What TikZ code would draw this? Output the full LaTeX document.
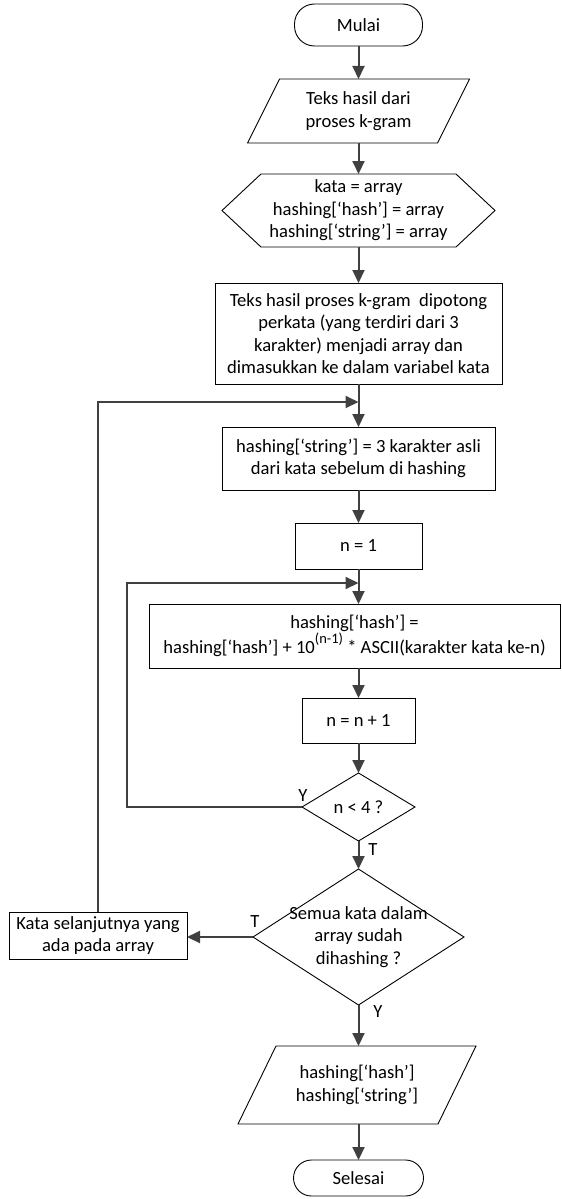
\documentclass[tikz,border=0pt]{standalone}
\usepackage{fontspec}
\setmainfont{Carlito}
\usetikzlibrary{arrows.meta}
\definecolor{linec}{HTML}{404040}
\newcommand{\raisedexp}[1]{\raisebox{0.52em}{\fontsize{14.5}{14.5}\selectfont #1}}
\begin{document}
\begin{tikzpicture}[x=1pt,y=-1pt,
  every node/.style={font=\fontsize{18.6}{22.5}\selectfont, inner sep=0pt, outer sep=0pt, align=center},
  shape line/.style={draw=black, line width=0.9pt},
  procbox/.style={shape line, rectangle},
  termbox/.style={shape line, rectangle, rounded corners=#1},
  arr/.style={draw=linec, line width=2pt, -{Triangle[length=13pt,width=12pt]}},
  lbl/.style={font=\fontsize{18.6}{22.5}\selectfont}
]
\useasboundingbox (0,0) rectangle (562,1199);

% start / end terminators
\node[termbox=20pt, minimum width=128pt, minimum height=42pt] (mulai) at (358.5,25) {Mulai};
\node[termbox=18pt, minimum width=130pt, minimum height=36pt] (sel) at (358.5,1178) {Selesai};

% input parallelogram
\node[minimum width=222pt, minimum height=64pt] (p1) at (358.5,111) {Teks hasil dari\\proses k-gram};
\draw[shape line] ([xshift=32pt]p1.north west) -- (p1.north east) -- ([xshift=-32pt]p1.south east) -- (p1.south west) -- cycle;

% preparation hexagon
\node[minimum width=273pt, minimum height=73pt] (hex) at (358.5,210.5) {kata = array\\hashing[‘hash’] = array\\hashing[‘string’] = array};
\draw[shape line] (hex.west) -- ([xshift=39pt]hex.north west) -- ([xshift=-39pt]hex.north east) -- (hex.east) -- ([xshift=-39pt]hex.south east) -- ([xshift=39pt]hex.south west) -- cycle;

% process boxes
\node[procbox, minimum width=287pt, minimum height=101pt] (b2) at (358.5,333.5) {Teks hasil proses k-gram\ \ dipotong\\perkata (yang terdiri dari 3\\karakter) menjadi array dan\\dimasukkan ke dalam variabel kata};
\node[procbox, minimum width=273pt, minimum height=63pt] (b3) at (358.5,458.5) {hashing[‘string’] = 3 karakter asli\\dari kata sebelum di hashing};
\node[procbox, minimum width=127pt, minimum height=46pt] (n1) at (358.5,546) {n = 1};
\node[procbox, minimum width=411pt, minimum height=64pt] (big) at (354.5,636) {hashing[‘hash’] =\\hashing[‘hash’] + 10\raisedexp{(n-1)} * ASCII(karakter kata ke-n)};
\node[procbox, minimum width=113pt, minimum height=45pt] (n2) at (358.5,720.5) {n = n + 1};

% decisions
\node[minimum width=113pt, minimum height=68pt] (d1) at (358.5,807) {n < 4 ?};
\draw[shape line] (d1.north) -- (d1.east) -- (d1.south) -- (d1.west) -- cycle;
\node[minimum width=211pt, minimum height=136pt] (d2) at (358.5,937) {Semua kata dalam\\array sudah\\dihashing ?};
\draw[shape line] (d2.north) -- (d2.east) -- (d2.south) -- (d2.west) -- cycle;

\node[procbox, minimum width=178pt, minimum height=47pt] (kata) at (98,935.5) {Kata selanjutnya yang\\ada pada array};

% output parallelogram
\node[minimum width=238pt, minimum height=78pt] (p2) at (357,1085) {hashing[‘hash’]\\hashing[‘string’]};
\draw[shape line] ([xshift=38pt]p2.north west) -- (p2.north east) -- ([xshift=-38pt]p2.south east) -- (p2.south west) -- cycle;

% loop join points on the main axis
\coordinate (j1) at (358.5,402);
\coordinate (j2) at (358.5,583);

% main flow
\draw[arr] (mulai.south) -- (p1.north);
\draw[arr] (p1.south) -- (hex.north);
\draw[arr] (hex.south) -- (b2.north);
\draw[arr] (b2.south) -- (b3.north);
\draw[arr] (b3.south) -- (n1.north);
\draw[arr] (n1.south) -- (n1.south |- big.north);
\draw[arr] (n1.south |- big.south) -- (n2.north);
\draw[arr] (n2.south) -- (d1.north);
\draw[arr] (d1.south) -- (d2.north);
\draw[arr] (d2.west) -- (d2.west -| kata.east);
\draw[arr] (d2.south) -- (d2.south |- p2.north);
\draw[arr] (d2.south |- p2.south) -- (sel.north);

% loops back
\draw[arr] (d1.west) -- (127,807) -- (127,583) -- (j2);
\draw[arr] (kata.north) -- (kata.north |- j1) -- (j1);

% branch labels
\node[lbl] (ly1) at (303,796) {Y};
\node[lbl] (lt1) at (373,850) {T};
\node[lbl] (lt2) at (255,922) {T};
\node[lbl] (ly2) at (378,1012) {Y};
\end{tikzpicture}
\end{document}
